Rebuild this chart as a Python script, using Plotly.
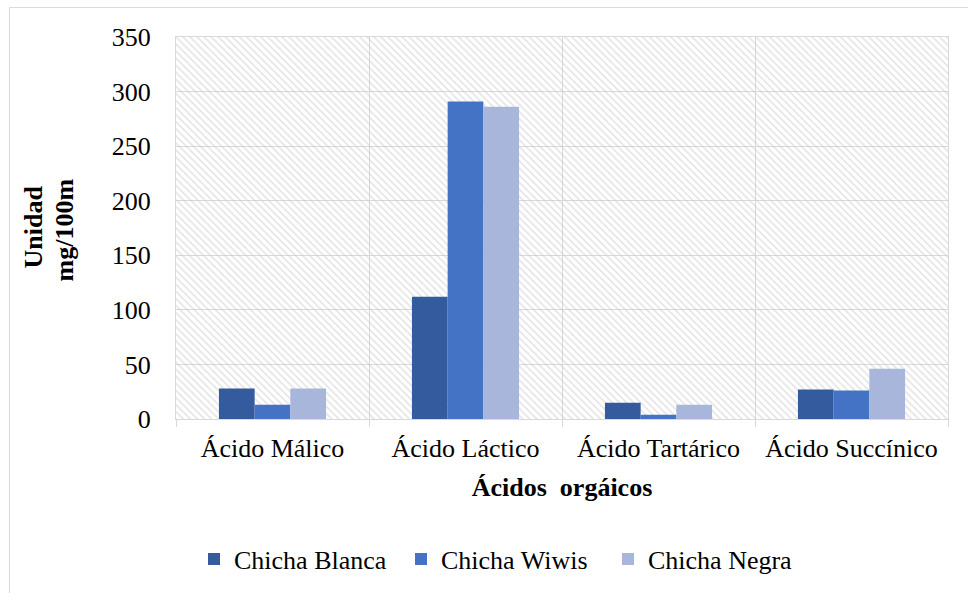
import plotly.graph_objects as go

# Organic acid content per chicha type (mg/100 mL)
categories = ["Ácido Málico", "Ácido Láctico", "Ácido Tartárico", "Ácido Succínico"]
chicha_blanca = [28, 112, 15, 27]
chicha_wiwis = [13, 291, 4, 26]
chicha_negra = [28, 286, 13, 46]

series_names = ["Chicha Blanca", "Chicha Wiwis", "Chicha Negra"]
series_values = [chicha_blanca, chicha_wiwis, chicha_negra]
series_colors = ["#335B9E", "#4472C4", "#A8B6DB"]

y_ticks = [0, 50, 100, 150, 200, 250, 300, 350]
y_title_lines = ["Unidad", "mg/100m"]

FONT = "Liberation Serif, Times New Roman, serif"
GRID = "#d9d9d9"

W, H = 968, 593
L, R, T, B = 176, 20, 37, 173
plot_w = W - L - R
plot_h = H - T - B


def px_x(p):
    return (p - L) / plot_w


def px_y(p):
    return (H - B - p) / plot_h


fig = go.Figure()

# Diagonal hatch filling the plotting area (base axes, hidden)
fig.add_trace(go.Scatter(
    x=[0, 1, 1, 0, 0], y=[0, 0, 1, 1, 0],
    mode="lines", fill="toself",
    line=dict(width=0, color="rgba(0,0,0,0)"),
    fillcolor="rgba(0,0,0,0)",
    fillpattern=dict(shape="\\", fgcolor="#c8c8c8", bgcolor="rgba(0,0,0,0)",
                     size=5, solidity=0.3),
    hoverinfo="skip", showlegend=False,
    xaxis="x", yaxis="y",
))

for name, vals, col in zip(series_names, series_values, series_colors):
    fig.add_trace(go.Bar(
        name=name, x=categories, y=vals,
        marker=dict(color=col, line=dict(width=0)),
        xaxis="x2", yaxis="y2",
    ))

# Two-line rotated y-axis title, placed line by line for tighter spacing
annotations = []
for text, xp, yp in zip(y_title_lines, [34, 64], [228, 231]):
    annotations.append(dict(
        text=f"<b>{text}</b>", xref="paper", yref="paper",
        x=px_x(xp), y=px_y(yp), xanchor="center", yanchor="middle",
        textangle=-90, showarrow=False, font=dict(size=26),
    ))

fig.update_layout(
    width=W, height=H,
    margin=dict(l=L, r=R, t=T, b=B),
    paper_bgcolor="white", plot_bgcolor="white",
    font=dict(family=FONT, size=26, color="black"),
    barmode="group", bargap=0.445, bargroupgap=0,
    xaxis=dict(range=[0, 1], visible=False, fixedrange=True),
    yaxis=dict(range=[0, 1], visible=False, fixedrange=True),
    xaxis2=dict(
        overlaying="x", anchor="y2", type="category",
        range=[-0.5, 3.5], tickson="boundaries",
        showgrid=True, gridcolor=GRID, gridwidth=1,
        showline=True, linecolor=GRID, linewidth=1, mirror=True,
        ticks="outside", ticklen=7, tickcolor=GRID,
        ticklabelstandoff=6,
        tickfont=dict(size=26),
        title=dict(text="<b>Ácidos\u00a0 orgáicos</b>", font=dict(size=26), standoff=15),
    ),
    yaxis2=dict(
        overlaying="y", anchor="x2",
        range=[0, 350], tickvals=y_ticks,
        showgrid=True, gridcolor=GRID, gridwidth=1,
        showline=True, linecolor=GRID, linewidth=1, mirror=True,
        ticks="", ticklabelstandoff=19,
        tickfont=dict(size=26),
        zeroline=False,
    ),
    legend=dict(
        orientation="h", x=px_x(194), xanchor="left",
        y=px_y(559), yanchor="middle",
        font=dict(size=26), itemwidth=30, bgcolor="rgba(0,0,0,0)",
        entrywidth=162, entrywidthmode="pixels",
    ),
    annotations=annotations,
    shapes=[dict(
        type="rect", xref="paper", yref="paper", layer="below",
        x0=px_x(9.5), x1=px_x(975), y0=px_y(600), y1=px_y(7.5),
        line=dict(color=GRID, width=1), fillcolor="rgba(0,0,0,0)",
    )],
)

fig.write_html("out.html")
